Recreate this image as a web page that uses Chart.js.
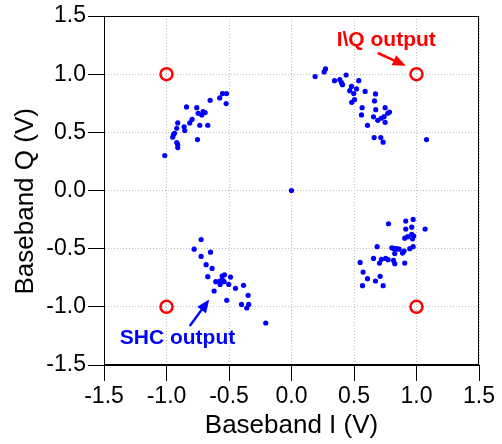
<!DOCTYPE html>
<html>
<head>
<meta charset="utf-8">
<script src="https://cdn.jsdelivr.net/npm/chart.js@4"></script>
<style>
  html, body { margin: 0; padding: 0; background: #fff; }
  #wrap { width: 502px; height: 444px; }
</style>
</head>
<body>
<div id="wrap"><canvas id="grafico" width="502" height="444"></canvas></div>
<script>
// measured constellation points [I, Q] per quadrant (SHC output)
const quadNE = [[0.272,1.045],[0.261,1.019],[0.189,0.979],[0.344,0.944],[0.386,0.953],[0.4,0.927],[0.408,0.91],[0.437,0.993],[0.538,0.944],[0.48,0.895],[0.52,0.873],[0.466,0.858],[0.498,0.833],[0.589,0.852],[0.672,0.83],[0.504,0.781],[0.482,0.758],[0.664,0.77],[0.565,0.712],[0.674,0.695],[0.749,0.712],[0.784,0.675],[0.77,0.664],[0.56,0.65],[0.656,0.633],[0.741,0.635],[0.717,0.621],[0.69,0.603],[0.749,0.586],[0.608,0.56],[0.661,0.455],[0.714,0.455],[0.733,0.415],[1.08,0.438]];
const quadNW = [[-0.552,0.833],[-0.52,0.833],[-0.574,0.796],[-0.523,0.747],[-0.651,0.775],[-0.84,0.718],[-0.758,0.712],[-0.747,0.664],[-0.707,0.678],[-0.691,0.67],[-0.718,0.65],[-0.795,0.612],[-0.814,0.581],[-0.91,0.581],[-0.734,0.561],[-0.67,0.561],[-0.859,0.547],[-0.918,0.535],[-0.854,0.515],[-0.936,0.492],[-0.944,0.481],[-0.95,0.458],[-0.752,0.438],[-0.918,0.412],[-0.91,0.395],[-0.91,0.369],[-1.014,0.30]];
const quadSE = [[0.973,-0.249],[0.914,-0.263],[0.776,-0.286],[0.962,-0.315],[0.914,-0.332],[1.069,-0.332],[0.962,-0.378],[0.978,-0.392],[0.93,-0.397],[0.906,-0.41],[0.968,-0.415],[0.685,-0.483],[0.973,-0.483],[0.802,-0.492],[0.816,-0.498],[0.84,-0.5],[0.861,-0.504],[0.946,-0.5],[0.901,-0.521],[0.888,-0.538],[0.826,-0.541],[0.656,-0.584],[0.754,-0.584],[0.773,-0.595],[0.72,-0.592],[0.816,-0.601],[0.704,-0.624],[0.826,-0.629],[0.906,-0.624],[0.549,-0.618],[0.573,-0.701],[0.709,-0.738],[0.608,-0.758],[0.672,-0.778],[0.568,-0.818],[0.733,-0.818]];
const quadSW = [[-0.723,-0.421],[-0.779,-0.504],[-0.648,-0.53],[-0.723,-0.567],[-0.683,-0.638],[-0.635,-0.67],[-0.67,-0.741],[-0.536,-0.724],[-0.555,-0.736],[-0.488,-0.744],[-0.606,-0.784],[-0.574,-0.778],[-0.552,-0.77],[-0.539,-0.784],[-0.571,-0.807],[-0.502,-0.807],[-0.384,-0.815],[-0.448,-0.841],[-0.619,-0.864],[-0.347,-0.901],[-0.518,-0.944],[-0.4,-0.979],[-0.342,-0.979],[-0.358,-1.01],[-0.206,-1.139]];
const originPoint = [[0, 0]];

// ideal I\Q output points
const idealI = [-1, 1, -1, 1];
const idealQ = [1, 1, -1, -1];

const tickValues = [-1.5, -1.0, -0.5, 0.0, 0.5, 1.0, 1.5];

// callouts (data coordinates)
const notes = [
  { text: 'I\\Q output', color: '#ff0000', at: [0.758, 1.296], from: [0.69, 1.182], to: [0.914, 1.073] },
  { text: 'SHC output', color: '#0000ff', at: [-0.912, -1.27], from: [-0.814, -1.165], to: [-0.658, -0.936] }
];

const toXY = arr => arr.map(p => ({ x: p[0], y: p[1] }));
const shcData = [].concat(toXY(quadNE), toXY(quadNW), toXY(quadSE), toXY(quadSW), toXY(originPoint));
const idealData = idealI.map((v, i) => ({ x: v, y: idealQ[i] }));

const frameAndNotes = {
  id: 'frameAndNotes',
  afterDraw(chart) {
    const { ctx, chartArea: a, scales: { x, y } } = chart;
    ctx.save();
    ctx.strokeStyle = '#000';
    ctx.lineWidth = 1;
    ctx.strokeRect(a.left + 0.5, a.top + 0.5, a.right - a.left - 1, a.bottom - a.top - 1);

    notes.forEach(n => {
      const x1 = x.getPixelForValue(n.from[0]), y1 = y.getPixelForValue(n.from[1]);
      const x2 = x.getPixelForValue(n.to[0]), y2 = y.getPixelForValue(n.to[1]);
      const ang = Math.atan2(y2 - y1, x2 - x1);
      const hl = 13, hw = 5.5;
      const bx = x2 - hl * Math.cos(ang), by = y2 - hl * Math.sin(ang);
      ctx.strokeStyle = n.color;
      ctx.fillStyle = n.color;
      ctx.lineWidth = 2.5;
      ctx.beginPath();
      ctx.moveTo(x1, y1);
      ctx.lineTo(bx, by);
      ctx.stroke();
      ctx.beginPath();
      ctx.moveTo(x2, y2);
      ctx.lineTo(bx + hw * Math.sin(ang), by - hw * Math.cos(ang));
      ctx.lineTo(bx - hw * Math.sin(ang), by + hw * Math.cos(ang));
      ctx.closePath();
      ctx.fill();

      ctx.font = 'bold 21px "Liberation Sans", Arial, sans-serif';
      ctx.textAlign = 'center';
      ctx.textBaseline = 'middle';
      ctx.fillText(n.text, x.getPixelForValue(n.at[0]), y.getPixelForValue(n.at[1]));
    });
    ctx.restore();
  }
};

const ctx = document.getElementById('grafico').getContext('2d');
new Chart(ctx, {
  type: 'scatter',
  data: {
    datasets: [
      {
        label: 'SHC output',
        data: shcData,
        backgroundColor: '#0000ff',
        borderColor: '#0000ff',
        pointRadius: 2.6,
        borderWidth: 0
      },
      {
        label: 'I\\Q output',
        data: idealData,
        backgroundColor: 'rgba(0,0,0,0)',
        borderColor: '#ff0000',
        pointRadius: 6,
        borderWidth: 2.5
      }
    ]
  },
  options: {
    responsive: false,
    animation: false,
    layout: { padding: { top: 16, right: 23, left: 0, bottom: 0 } },
    plugins: { legend: { display: false }, tooltip: { enabled: false } },
    scales: {
      x: {
        type: 'linear',
        min: -1.5, max: 1.5,
        afterBuildTicks: s => { s.ticks = tickValues.map(v => ({ value: v })); },
        afterFit: s => { s.height = 79; },
        ticks: {
          callback: v => v.toFixed(1),
          color: '#000',
          padding: 2,
          maxRotation: 0,
          font: { family: '"Liberation Sans", Arial, sans-serif', size: 23 }
        },
        grid: { color: '#bdbdbd', tickColor: '#000', tickLength: 16, tickWidth: 1 },
        border: { color: '#000', width: 1, dash: [1, 2] },
        title: {
          display: true,
          text: 'Baseband I (V)',
          color: '#000',
          padding: { top: 0, bottom: 3 },
          font: { family: '"Liberation Sans", Arial, sans-serif', size: 26 }
        }
      },
      y: {
        type: 'linear',
        min: -1.5, max: 1.5,
        afterBuildTicks: s => { s.ticks = tickValues.map(v => ({ value: v })); },
        afterFit: s => { s.width = 104; },
        ticks: {
          callback: v => v.toFixed(1),
          color: '#000',
          padding: 2,
          font: { family: '"Liberation Sans", Arial, sans-serif', size: 23 }
        },
        grid: { color: '#bdbdbd', tickColor: '#000', tickLength: 16, tickWidth: 1 },
        border: { color: '#000', width: 1, dash: [1, 2] },
        title: {
          display: true,
          text: 'Baseband Q (V)\u00a0\u00a0\u00a0',
          color: '#000',
          padding: { top: 10, bottom: 0 },
          font: { family: '"Liberation Sans", Arial, sans-serif', size: 26 }
        }
      }
    }
  },
  plugins: [frameAndNotes]
});
</script>
</body>
</html>
